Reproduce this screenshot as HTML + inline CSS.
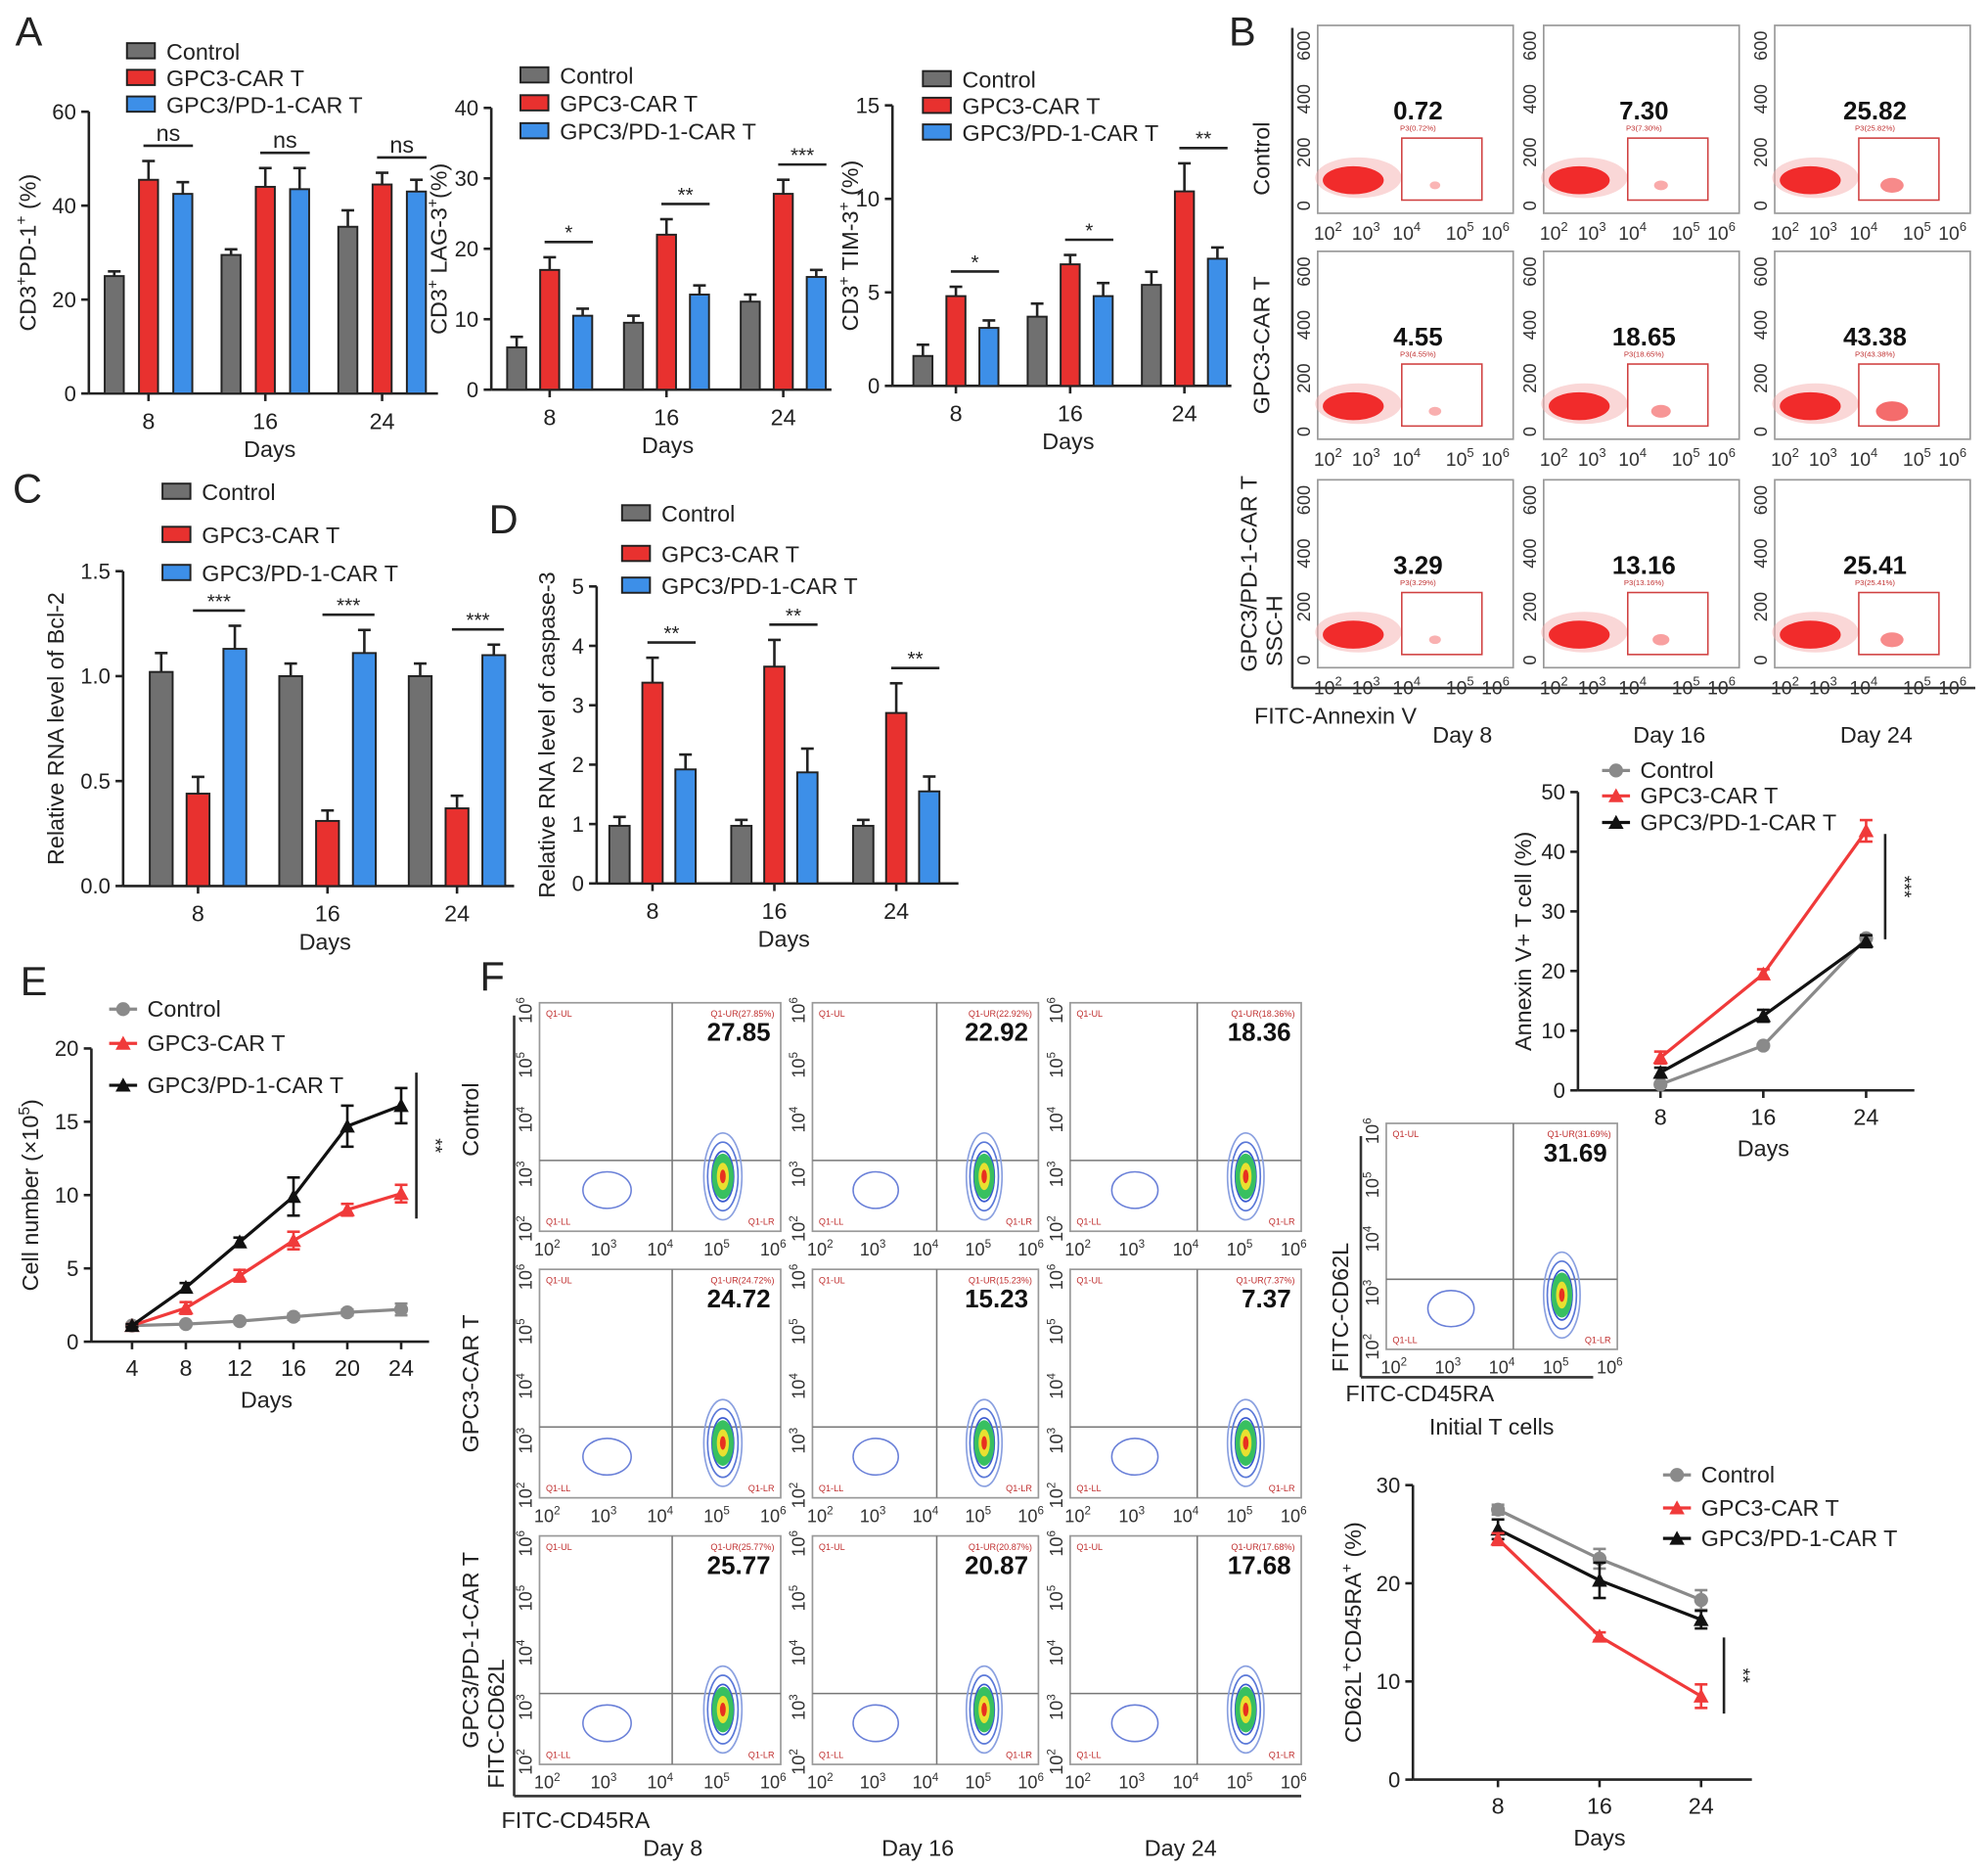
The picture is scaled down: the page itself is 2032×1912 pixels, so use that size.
<!DOCTYPE html>
<html><head><meta charset="utf-8"><style>
html,body{margin:0;padding:0;background:#fff;}
svg{display:block;font-family:"Liberation Sans",Arial,sans-serif;}
</style></head><body>
<svg id="fig" width="2032" height="1912" viewBox="0 0 1566 1474" preserveAspectRatio="none" xmlns="http://www.w3.org/2000/svg"></svg>
<script>
// ---------- DATA ----------
const barCats = ['8','16','24'];
const a1Control=[25,29.5,35.5], a1Car=[45.5,44,44.5], a1Pd=[42.5,43.5,43];
const a1ControlErr=[1,1.2,3.5], a1CarErr=[4,4,2.5], a1PdErr=[2.5,4.5,2.5];
const a1Ticks=[0,20,40,60]; const a1Sig=['ns','ns','ns'];
const a2Control=[6,9.5,12.5], a2Car=[17,22,27.8], a2Pd=[10.5,13.5,16];
const a2ControlErr=[1.5,1,1], a2CarErr=[1.8,2.2,2], a2PdErr=[1,1.3,1];
const a2Ticks=[0,10,20,30,40]; const a2Sig=['*','**','***'];
const a3Control=[1.6,3.7,5.4], a3Car=[4.8,6.5,10.4], a3Pd=[3.1,4.8,6.8];
const a3ControlErr=[0.6,0.7,0.7], a3CarErr=[0.5,0.5,1.5], a3PdErr=[0.4,0.7,0.6];
const a3Ticks=[0,5,10,15]; const a3Sig=['*','*','**'];
const cControl=[1.02,1.0,1.0], cCar=[0.44,0.31,0.37], cPd=[1.13,1.11,1.1];
const cControlErr=[0.09,0.06,0.06], cCarErr=[0.08,0.05,0.06], cPdErr=[0.11,0.11,0.05];
const cTicks=[0,0.5,1.0,1.5]; const cSig=['***','***','***'];
const dControl=[0.97,0.97,0.97], dCar=[3.38,3.65,2.87], dPd=[1.92,1.87,1.55];
const dControlErr=[0.15,0.1,0.1], dCarErr=[0.42,0.45,0.5], dPdErr=[0.25,0.4,0.25];
const dTicks=[0,1,2,3,4,5]; const dSig=['**','**','**'];

const bDays=[8,16,24];
const bControl=[1,7.5,25.5], bCar=[5.5,19.5,43.5], bPd=[3,12.5,25];
const bCarErr=[1,0.8,1.8], bPdErr=[0.8,1,1];
const bTicks=[0,10,20,30,40,50];

const eDays=[4,8,12,16,20,24];
const eControl=[1.1,1.2,1.4,1.7,2.0,2.2], eCar=[1.1,2.3,4.5,6.9,9.0,10.1], ePd=[1.1,3.7,6.8,9.9,14.7,16.1];
const eCarErr=[0.1,0.4,0.4,0.6,0.4,0.6], ePdErr=[0.1,0.3,0.3,1.3,1.4,1.2], eControlErr=[0.1,0.1,0.1,0.2,0.2,0.4];
const eTicks=[0,5,10,15,20];

const fDays=[8,16,24];
const fControl=[27.5,22.5,18.3], fCar=[24.5,14.6,8.5], fPd=[25.5,20.3,16.3];
const fControlErr=[0.5,1,1], fCarErr=[0.6,0.4,1.2], fPdErr=[1,1.8,0.9];
const fTicks=[0,10,20,30];

const annexinVals=[['0.72','7.30','25.82'],['4.55','18.65','43.38'],['3.29','13.16','25.41']];
const cd62Vals=[['27.85','22.92','18.36'],['24.72','15.23','7.37'],['25.77','20.87','17.68']];

// ---------- HELPERS ----------
const svg=document.getElementById('fig');
const NS='http://www.w3.org/2000/svg';
function mk(tag,name,attrs,parent){
  const e=document.createElementNS(NS,tag);
  for(const k in attrs) e.setAttribute(k,attrs[k]);
  
  
  (parent||svg).appendChild(e);return e;
}
function txt(name,x,y,s,size,opt){
  opt=opt||{};
  const a={x:x,y:y,'font-size':size,fill:opt.fill||'#222','text-anchor':opt.anchor||'start'};
  if(opt.weight)a['font-weight']=opt.weight;
  if(opt.rot!==undefined)a.transform='rotate('+opt.rot+' '+x+' '+y+')';
  const t=mk('text',name,a,opt.parent);t.innerHTML=s;return t;
}
function line(name,x1,y1,x2,y2,c,w,p){return mk('line',name,{x1:x1,y1:y1,x2:x2,y2:y2,stroke:c||'#222','stroke-width':w||2},p);}
const COL={ctl:'#707070',car:'#e8312f',pd:'#3d8fe8'};

function legendBar(x,y,dy,size){
  const items=[['Control',COL.ctl],['GPC3-CAR T',COL.car],['GPC3/PD-1-CAR T',COL.pd]];
  items.forEach((it,i)=>{
    const yy=y+(Array.isArray(dy)?dy[i]:i*dy);
    mk('rect','legend-swatch',{x:x,y:yy-7,width:22,height:12,fill:it[1],stroke:'#222','stroke-width':1.5});
    txt('legend-entry',x+31,yy+6,it[0],size);
  });
}
function barChart(c){
  const sc=v=>c.yb-v/c.max*(c.yb-c.yt);
  line('y-axis',c.x0,c.yt,c.x0,c.yb);
  line('x-axis',c.x0,c.yb,c.x1,c.yb);
  c.ticks.forEach(t=>{const y=sc(t);line('y-tick',c.x0-6,y,c.x0,y);
    txt('y-tick-label',c.x0-10,y+6,c.tl?c.tl(t):String(t),17,{anchor:'end'});});
  const series=[[c.s[0],c.e[0],COL.ctl],[c.s[1],c.e[1],COL.car],[c.s[2],c.e[2],COL.pd]];
  barCats.forEach((cat,i)=>{
    const cx=c.first+i*c.step;
    line('x-tick',cx,c.yb,cx,c.yb+6);
    txt('x-tick-label',cx,c.yb+28,cat,18,{anchor:'middle'});
    let top=1e9;
    series.forEach((s,j)=>{
      const bx=cx+(j-1)*c.gap;const y=sc(s[0][i]);const ye=sc(s[0][i]+s[1][i]);
      line('error-bar',bx,y,bx,ye,'#222',2);line('error-cap',bx-5,ye,bx+5,ye,'#222',2);
      mk('rect','bar-'+cat+'-'+j,{x:bx-c.bw/2,y:y,width:c.bw,height:c.yb-y,fill:s[2],stroke:'#222','stroke-width':1.5});
      if(j>0)top=Math.min(top,ye);
    });
    const ly=top-12;
    line('significance-bracket',cx-4,ly,cx+c.gap+8,ly,'#222',2);
    txt('significance-label',cx+c.gap/2+2,ly-(c.sig[i]==='ns'?4:2),c.sig[i],c.sig[i]==='ns'?18:16,{anchor:'middle'});
  });
  txt('x-axis-title',(c.x0+c.x1)/2+5,c.yb+50,'Days',18,{anchor:'middle'});
  txt('y-axis-title',c.ylx,(c.yt+c.yb)/2,c.yl,18,{anchor:'middle',rot:-90});
}
function marker(type,x,y,col,name){
  if(type==='c')mk('circle',name,{cx:x,cy:y,r:5.5,fill:col});
  else mk('polygon',name,{points:(x)+','+(y-6)+' '+(x-6)+','+(y+5)+' '+(x+6)+','+(y+5),fill:col});
}
function lineChart(c){
  const sc=v=>c.yb-v/c.max*(c.yb-c.yt);
  const sx=d=>c.first+(d-c.days[0])/(c.days[c.days.length-1]-c.days[0])*(c.last-c.first);
  line('y-axis',c.x0,c.yt,c.x0,c.yb);line('x-axis',c.x0,c.yb,c.x1,c.yb);
  c.ticks.forEach(t=>{const y=sc(t);line('y-tick',c.x0-6,y,c.x0,y);txt('y-tick-label',c.x0-10,y+6,String(t),17,{anchor:'end'});});
  c.days.forEach(d=>{const x=sx(d);line('x-tick',x,c.yb,x,c.yb+6);txt('x-tick-label',x,c.yb+27,String(d),18,{anchor:'middle'});});
  c.series.forEach(s=>{
    const pts=s.v.map((v,i)=>sx(c.days[i])+','+sc(v)).join(' ');
    mk('polyline','series-line-'+s.n,{points:pts,fill:'none',stroke:s.col,'stroke-width':2.5});
    s.v.forEach((v,i)=>{const x=sx(c.days[i]);
      if(s.e){const e=s.e[i];line('error-bar',x,sc(v-e),x,sc(v+e),s.col,2);line('error-cap',x-5,sc(v+e),x+5,sc(v+e),s.col,2);line('error-cap',x-5,sc(v-e),x+5,sc(v-e),s.col,2);}
      marker(s.m,x,sc(v),s.col,'point-'+s.n);});
  });
  txt('x-axis-title',(c.first+c.last)/2,c.yb+52,'Days',18,{anchor:'middle'});
  txt('y-axis-title',c.ylx,(c.yt+c.yb)/2,c.yl,18,{anchor:'middle',rot:-90});
  const L=[['Control','#8a8a8a','c'],['GPC3-CAR T','#f03a3a','t'],['GPC3/PD-1-CAR T','#111','t']];
  L.forEach((l,i)=>{const y=c.ly+c.ldy[i];line('legend-line',c.lx,y,c.lx+22,y,l[1],2.5);marker(l[2],c.lx+11,y,l[1],'legend-marker');txt('legend-entry',c.lx+30,y+6,l[0],18);});
  line('significance-line',c.sigx,c.sigy1,c.sigx,c.sigy2,'#222',2);
  txt('significance-label',c.sigx+10,(c.sigy1+c.sigy2)/2,c.sig,15,{anchor:'middle',rot:90});
}

// ---------- PANEL LETTERS ----------
[['A',12,36],['B',968,36],['C',10,396],['D',385,420],['E',16,784],['F',378,780]].forEach(l=>txt('panel-letter-'+l[0],l[1],l[2],l[0],32));

// ---------- A ----------
legendBar(100,41,21,18);
barChart({x0:70,x1:345,yb:310,yt:88,max:60,ticks:a1Ticks,first:117,step:92,bw:15,gap:27,s:[a1Control,a1Car,a1Pd],e:[a1ControlErr,a1CarErr,a1PdErr],sig:a1Sig,ylx:28,yl:'CD3<tspan dy="-7" font-size="12">+</tspan><tspan dy="7">PD-1</tspan><tspan dy="-7" font-size="12">+</tspan><tspan dy="7"> (%)</tspan>'});
legendBar(410,60,22,18);
barChart({x0:387,x1:655,yb:307,yt:85,max:40,ticks:a2Ticks,first:433,step:92,bw:15,gap:26,s:[a2Control,a2Car,a2Pd],e:[a2ControlErr,a2CarErr,a2PdErr],sig:a2Sig,ylx:352,yl:'CD3<tspan dy="-7" font-size="12">+</tspan><tspan dy="7"> LAG-3</tspan><tspan dy="-7" font-size="12">+</tspan><tspan dy="7">(%)</tspan>'});
legendBar(727,63,21,18);
barChart({x0:703,x1:970,yb:304,yt:83,max:15,ticks:a3Ticks,first:753,step:90,bw:15,gap:26,s:[a3Control,a3Car,a3Pd],e:[a3ControlErr,a3CarErr,a3PdErr],sig:a3Sig,ylx:676,yl:'CD3<tspan dy="-7" font-size="12">+</tspan><tspan dy="7"> TIM-3</tspan><tspan dy="-7" font-size="12">+</tspan><tspan dy="7"> (%)</tspan>'});

// ---------- C / D ----------
legendBar(128,388,[0,34,64],18);
barChart({x0:97,x1:405,yb:698,yt:450,max:1.5,ticks:cTicks,tl:t=>t.toFixed(1),first:156,step:102,bw:18,gap:29,s:[cControl,cCar,cPd],e:[cControlErr,cCarErr,cPdErr],sig:cSig,ylx:50,yl:'Relative RNA level of Bcl-2'});
legendBar(490,405,[0,32,57],18);
barChart({x0:470,x1:755,yb:696,yt:462,max:5,ticks:dTicks,first:514,step:96,bw:16,gap:26,s:[dControl,dCar,dPd],e:[dControlErr,dCarErr,dPdErr],sig:dSig,ylx:437,yl:'Relative RNA level of caspase-3'});

// ---------- B flow ----------
const bCols=[1038,1216,1398], bRows=[20,198,378], bW=154, bH=148;
line('b-outer-y-axis',1018,22,1018,542,'#333',2);line('b-outer-x-axis',1018,542,1556,542,'#333',2);
bRows.forEach((ry,r)=>bCols.forEach((cx,c)=>{
  const g=mk('g','annexin-plot-r'+r+'c'+c,{});
  mk('rect','plot-frame',{x:cx,y:ry,width:bW,height:bH,fill:'#fff',stroke:'#999','stroke-width':1.3},g);
  [0,200,400,600].forEach((t,i)=>{const y=ry+bH-6-i*(bH-22)/3;txt('y-tick-label',cx-6,y,String(t),14,{anchor:'middle',rot:-90,parent:g,fill:'#333'});});
  ['2','3','4','5','6'].forEach((e,i)=>{const x=cx+8+[0,30,62,104,132][i];txt('x-tick-label',x,ry+bH+21,'10<tspan dy="-7" font-size="10">'+e+'</tspan>',15,{anchor:'middle',parent:g,fill:'#333'});});
  mk('ellipse','cell-cluster-halo',{cx:cx+32,cy:ry+bH-28,rx:34,ry:16,fill:'#f6b0b0',opacity:0.5},g);
  mk('ellipse','cell-cluster',{cx:cx+28,cy:ry+bH-26,rx:24,ry:11,fill:'#f01818',opacity:0.9},g);
  const v=parseFloat(annexinVals[r][c]);
  mk('rect','apoptosis-gate',{x:cx+bW*0.43,y:ry+bH*0.6,width:bW*0.41,height:bH*0.33,fill:'none',stroke:'#d04040','stroke-width':1.2},g);
  mk('ellipse','apoptotic-cluster',{cx:cx+bW*0.6,cy:ry+bH-22,rx:4+v/5,ry:3+v/9,fill:'#f03030',opacity:0.35+v/120},g);
  txt('gate-percent',cx+bW/2+2,ry+bH*0.5,annexinVals[r][c],20,{anchor:'middle',weight:'bold',parent:g,fill:'#111'});
  txt('gate-label',cx+bW/2+2,ry+bH*0.56,'P3('+annexinVals[r][c]+'%)',6,{anchor:'middle',parent:g,fill:'#c03030'});
}));
txt('row-label-control',1000,125,'Control',18,{anchor:'middle',rot:-90});
txt('row-label-gpc3',1000,272,'GPC3-CAR T',18,{anchor:'middle',rot:-90});
txt('row-label-gpc3pd1',990,452,'GPC3/PD-1-CAR T',18,{anchor:'middle',rot:-90});
txt('y-axis-title-ssc',1010,497,'SSC-H',18,{anchor:'middle',rot:-90});
txt('x-axis-title-annexin',988,570,'FITC-Annexin V',18);
[['Day 8',1152],['Day 16',1315],['Day 24',1478]].forEach(d=>txt('column-label',d[1],585,d[0],18,{anchor:'middle'}));

lineChart({x0:1243,x1:1508,yb:859,yt:624,max:50,ticks:bTicks,days:bDays,first:1308,last:1470,
  series:[{n:'control',v:bControl,col:'#8a8a8a',m:'c'},{n:'pd1',v:bPd,e:bPdErr,col:'#111',m:'t'},{n:'gpc3',v:bCar,e:bCarErr,col:'#f03a3a',m:'t'}],
  ylx:1206,yl:'Annexin V+ T cell (%)',lx:1262,ly:607,ldy:[0,20,41],sigx:1485,sigy1:657,sigy2:740,sig:'***'});

// ---------- E ----------
lineChart({x0:72,x1:338,yb:1057,yt:826,max:20,ticks:eTicks,days:eDays,first:104,last:316,
  series:[{n:'control',v:eControl,e:eControlErr,col:'#8a8a8a',m:'c'},{n:'gpc3',v:eCar,e:eCarErr,col:'#f03a3a',m:'t'},{n:'pd1',v:ePd,e:ePdErr,col:'#111',m:'t'}],
  ylx:30,yl:'Cell number (×10<tspan dy="-7" font-size="12">5</tspan><tspan dy="7">)</tspan>',lx:86,ly:795,ldy:[0,27,60],sigx:328,sigy1:845,sigy2:960,sig:'**'});

// ---------- F contours ----------
const fCols=[425,640,843], fRows=[790,1000,1210], fW=[190,178,182], fH=180;
line('f-outer-y-axis',405,800,405,1415,'#333',2);line('f-outer-x-axis',405,1415,1025,1415,'#333',2);
function contourPlot(name,cx,ry,w,h,val){
  const g=mk('g',name,{});
  mk('rect','plot-frame',{x:cx,y:ry,width:w,height:h,fill:'#fff',stroke:'#999','stroke-width':1.3},g);
  const qx=cx+w*0.55,qy=ry+h*0.69;
  line('quadrant-v',qx,ry,qx,ry+h,'#777',1.2,g);line('quadrant-h',cx,qy,cx+w,qy,'#777',1.2,g);
  ['2','3','4','5','6'].forEach((e,i)=>{txt('y-tick-label',cx-6,ry+h-2-i*(h-8)/4,'10<tspan dy="-6" font-size="9">'+e+'</tspan>',14,{anchor:'middle',rot:-90,parent:g,fill:'#333'});
    txt('x-tick-label',cx+6+i*(w-12)/4,ry+h+19,'10<tspan dy="-6" font-size="9">'+e+'</tspan>',14,{anchor:'middle',parent:g,fill:'#333'});});
  const px=cx+w*0.76,py=ry+h*0.76;
  [[30,38,'#8aa0e0'],[24,30,'#5a78d8'],[17,22,'#3a5ad0']].forEach(r=>mk('ellipse','contour-ring',{cx:px,cy:py,rx:r[0]*w/380,ry:r[1]*h/180*0.9,fill:'none',stroke:r[2],'stroke-width':1.3},g));
  mk('ellipse','contour-green',{cx:px,cy:py,rx:w*0.045,ry:h*0.1,fill:'#38c060'},g);
  mk('ellipse','contour-yellow',{cx:px,cy:py,rx:w*0.025,ry:h*0.06,fill:'#e8e030'},g);
  mk('ellipse','contour-red',{cx:px,cy:py,rx:w*0.012,ry:h*0.03,fill:'#e83020'},g);
  mk('ellipse','contour-ll',{cx:cx+w*0.28,cy:ry+h*0.82,rx:w*0.1,ry:h*0.08,fill:'none',stroke:'#6a80d8','stroke-width':1.2},g);
  txt('quadrant-percent',cx+w-8,ry+30,val,20,{anchor:'end',weight:'bold',parent:g,fill:'#111'});
  txt('quadrant-label',cx+5,ry+11,'Q1-UL',7,{parent:g,fill:'#c03030'});
  txt('quadrant-label',cx+w-5,ry+11,'Q1-UR('+val+'%)',7,{anchor:'end',parent:g,fill:'#c03030'});
  txt('quadrant-label',cx+5,ry+h-5,'Q1-LL',7,{parent:g,fill:'#c03030'});
  txt('quadrant-label',cx+w-5,ry+h-5,'Q1-LR',7,{anchor:'end',parent:g,fill:'#c03030'});
}
fRows.forEach((ry,r)=>fCols.forEach((cx,c)=>contourPlot('cd62l-plot-r'+r+'c'+c,cx,ry,fW[c],fH,cd62Vals[r][c])));
txt('row-label-control',377,882,'Control',18,{anchor:'middle',rot:-90});
txt('row-label-gpc3',377,1090,'GPC3-CAR T',18,{anchor:'middle',rot:-90});
txt('row-label-gpc3pd1',377,1300,'GPC3/PD-1-CAR T',18,{anchor:'middle',rot:-90});
txt('y-axis-title-cd62l',397,1358,'FITC-CD62L',18,{anchor:'middle',rot:-90});
txt('x-axis-title-cd45ra',395,1440,'FITC-CD45RA',18);
[['Day 8',530],['Day 16',723],['Day 24',930]].forEach(d=>txt('column-label',d[1],1462,d[0],18,{anchor:'middle'}));
line('initial-y-axis',1072,895,1072,1085,'#333',2);line('initial-x-axis',1072,1085,1255,1085,'#333',2);
contourPlot('initial-t-cells-plot',1092,885,182,178,'31.69');
txt('initial-y-title',1062,1030,'FITC-CD62L',18,{anchor:'middle',rot:-90});
txt('initial-x-title',1060,1104,'FITC-CD45RA',18);
txt('initial-caption',1175,1130,'Initial T cells',18,{anchor:'middle'});

lineChart({x0:1113,x1:1380,yb:1402,yt:1170,max:30,ticks:fTicks,days:fDays,first:1180,last:1340,
  series:[{n:'control',v:fControl,e:fControlErr,col:'#8a8a8a',m:'c'},{n:'pd1',v:fPd,e:fPdErr,col:'#111',m:'t'},{n:'gpc3',v:fCar,e:fCarErr,col:'#f03a3a',m:'t'}],
  ylx:1072,yl:'CD62L<tspan dy="-7" font-size="12">+</tspan><tspan dy="7">CD45RA</tspan><tspan dy="-7" font-size="12">+</tspan><tspan dy="7"> (%)</tspan>',lx:1310,ly:1162,ldy:[0,26,50],sigx:1358,sigy1:1290,sigy2:1350,sig:'**'});
</script>
</body></html>
